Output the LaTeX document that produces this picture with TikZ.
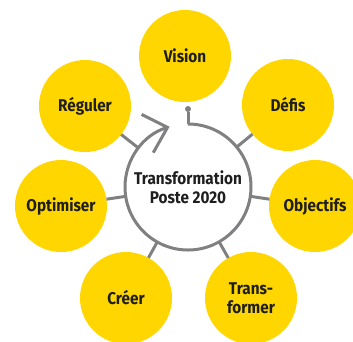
\documentclass[tikz,border=0pt]{standalone}
\usepackage{fontspec}
\setsansfont{Fira Sans}[FakeStretch=0.9]
\usetikzlibrary{arrows.meta}
\definecolor{posteyellow}{RGB}{255,214,0}
\definecolor{ringgray}{RGB}{128,128,130}
\definecolor{labelgray}{RGB}{30,30,30}

\begin{document}
\begin{tikzpicture}[x=1pt,y=1pt]
\tikzset{>={Straight Barb[length=21pt,width=40pt]}}
\tikzstyle{bubble} =[circle, fill=posteyellow, inner sep=0pt, outer sep=0pt, minimum size=92pt, align=center, text=labelgray, font=\sffamily\bfseries\fontsize{17}{19}\selectfont]
\tikzstyle{hub} =[circle, fill=white, inner sep=0pt, outer sep=0pt, minimum size=126pt, align=center, text=labelgray, font=\sffamily\bfseries\fontsize{17}{19}\selectfont]
\tikzstyle{pin} =[circle, fill=ringgray, inner sep=0pt, minimum size=6pt]
\tikzstyle{spoke} =[draw=ringgray, line width=3pt]
\useasboundingbox (0,0) rectangle (353,-341);

\node[hub](hub) at (188,-187){Transformation\\Poste 2020};
\node[bubble](vision) at (185,-56){Vision};
\node[bubble](defis) at (288,-105){Défis};
\node[bubble](objectifs) at (315,-206){Objectifs};
\node[bubble](transformer) at (251,-298){Trans-\\former};
\node[bubble](creer) at (126,-298){Créer};
\node[bubble](optimiser) at (61,-206){Optimiser};
\node[bubble](reguler) at (85,-106){Réguler};
\node[pin](dot) at (188,-109){};

\draw [spoke] (hub) -- (defis);
\draw [spoke] (hub) -- (objectifs);
\draw [spoke] (hub) -- (transformer);
\draw [spoke] (hub) -- (creer);
\draw [spoke] (hub) -- (optimiser);
\draw [spoke] (hub) -- (reguler);
\draw [spoke] (dot) -- (hub.north);
\draw [spoke,->] (hub.north) arc[start angle=90,end angle=-253,radius=63];
\end{tikzpicture}
\end{document}
